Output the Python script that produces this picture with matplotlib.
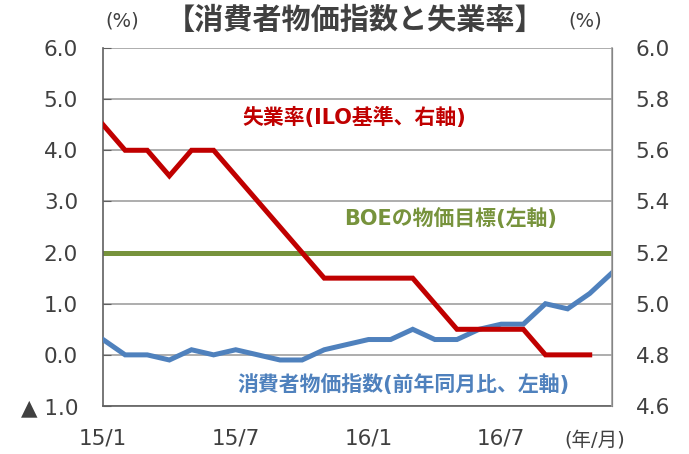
import matplotlib.pyplot as plt
import numpy as np

plt.rcParams['font.family'] = ['DejaVu Sans', 'Noto Sans CJK JP']

# monthly data, 2015/1 - 2016/12
months = ['15/1', '15/2', '15/3', '15/4', '15/5', '15/6', '15/7', '15/8',
          '15/9', '15/10', '15/11', '15/12', '16/1', '16/2', '16/3', '16/4',
          '16/5', '16/6', '16/7', '16/8', '16/9', '16/10', '16/11', '16/12']
cpi = [0.3, 0.0, 0.0, -0.1, 0.1, 0.0, 0.1, 0.0, -0.1, -0.1, 0.1, 0.2,
       0.3, 0.3, 0.5, 0.3, 0.3, 0.5, 0.6, 0.6, 1.0, 0.9, 1.2, 1.6]
unemp = [5.7, 5.6, 5.6, 5.5, 5.6, 5.6, 5.5, 5.4, 5.3, 5.2, 5.1, 5.1,
         5.1, 5.1, 5.1, 5.0, 4.9, 4.9, 4.9, 4.9, 4.8, 4.8, 4.8]
boe_target = 2.0

x_ticks = ['15/1', '15/7', '16/1', '16/7']
left_ticks = [-1.0, 0.0, 1.0, 2.0, 3.0, 4.0, 5.0, 6.0]
left_labels = ['▲ 1.0', '0.0', '1.0', '2.0', '3.0', '4.0', '5.0', '6.0']
right_ticks = [4.6, 4.8, 5.0, 5.2, 5.4, 5.6, 5.8, 6.0]

red = '#C00000'
blue = '#4F81BD'
green = '#77933C'
grid_c = '#A0A0A0'
txt_c = '#404040'

fig = plt.figure(figsize=(6.89, 4.54), dpi=100)
ax = fig.add_axes([0.1495, 0.1057, 0.7385, 0.7886])
ax2 = ax.twinx()

x = np.arange(len(months))
ax.plot(x, cpi, color=blue, lw=3.6, solid_joinstyle='miter', zorder=3)
ax.axhline(boe_target, color=green, lw=3.6, zorder=2)
ax2.plot(x[:len(unemp)], unemp, color=red, lw=3.6, solid_joinstyle='miter', zorder=3)

ax.set_xlim(0, len(months) - 1)
ax.set_ylim(-1.0, 6.0)
ax2.set_ylim(4.6, 6.0)

ax.set_yticks(left_ticks)
ax.set_yticklabels(left_labels)
ax2.set_yticks(right_ticks)
ax2.set_yticklabels(['%.1f' % v for v in right_ticks])

ax.set_xticks([months.index(m) for m in x_ticks])
ax.set_xticklabels(x_ticks)

ax.grid(axis='y', color=grid_c, lw=1.2, zorder=0)
ax.set_axisbelow(True)
ax.tick_params(axis='y', direction='in', length=6, color='#606060', labelsize=15.5,
               labelcolor=txt_c, pad=18)
ax.tick_params(axis='x', length=0, labelsize=15.5, labelcolor=txt_c, pad=16)
ax2.tick_params(axis='y', length=0, labelsize=15.5, labelcolor=txt_c, pad=17)

ax.spines['top'].set_visible(False)
ax2.spines['top'].set_visible(False)
ax.spines['left'].set_color('#606060')
ax.spines['bottom'].set_color('#606060')
ax2.spines['left'].set_visible(False)
ax2.spines['bottom'].set_visible(False)
ax2.spines['right'].set_color(grid_c)
ax.spines['left'].set_linewidth(1.2)
ax.spines['bottom'].set_linewidth(1.2)
ax2.spines['right'].set_linewidth(1.2)

fig.text(0.515, 0.955, '【消費者物価指数と失業率】', ha='center', va='center',
         fontsize=21, fontweight='bold', color=txt_c)
fig.text(0.177, 0.953, '(%)', ha='center', va='center', fontsize=14, color=txt_c)
fig.text(0.85, 0.953, '(%)', ha='center', va='center', fontsize=14, color=txt_c)
fig.text(0.863, 0.03, '(年/月)', ha='center', va='center', fontsize=14, color=txt_c)

ax.text(0.273, 0.807, '失業率(ILO基準、右軸)', transform=ax.transAxes,
        fontsize=15, fontweight='bold', color=red, va='center')
ax.text(0.473, 0.525, 'BOEの物価目標(左軸)', transform=ax.transAxes,
        fontsize=15, fontweight='bold', color=green, va='center')
ax.text(0.265, 0.059, '消費者物価指数(前年同月比、左軸)', transform=ax.transAxes,
        fontsize=15, fontweight='bold', color=blue, va='center')

fig.savefig('out.png', dpi=100)
